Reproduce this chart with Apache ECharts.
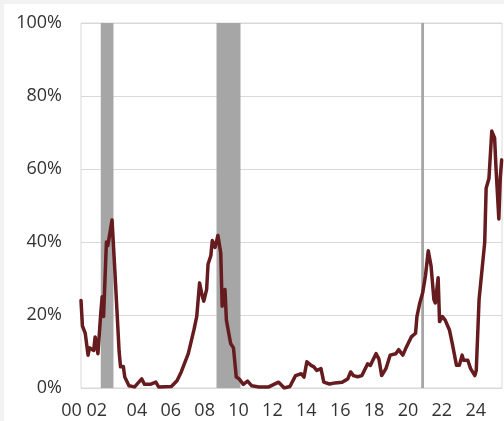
<!DOCTYPE html>
<html>
<head>
<meta charset="utf-8">
<script src="https://cdn.jsdelivr.net/npm/echarts@6/dist/echarts.min.js"></script>
<style>
  html, body { margin: 0; padding: 0; background: #f2f2f2; }
  #chart { position: absolute; left: 4px; top: 4px; width: 500px; height: 417px; background: #ffffff; }
</style>
</head>
<body>
<div id="chart"></div>
<script>
// Monthly share (%) — readings by month
const months = [
  '2000-01','2000-02','2000-04','2000-06','2000-07','2000-10','2000-11',
  '2001-01','2001-03','2001-04','2001-05','2001-07','2001-08','2001-11',
  '2002-01','2002-04','2002-05','2002-07','2002-08','2002-11',
  '2003-03','2003-08','2003-10',
  '2004-02','2004-06','2004-08',
  '2005-05','2005-09','2005-12',
  '2006-05','2006-09','2006-11',
  '2007-01','2007-03','2007-04','2007-06','2007-07','2007-09','2007-10','2007-12',
  '2008-02','2008-04','2008-05','2008-07','2008-08','2008-11',
  '2009-01','2009-03','2009-05','2009-08','2009-11',
  '2010-02','2010-07',
  '2011-02','2011-09',
  '2012-01','2012-05','2012-09',
  '2013-01','2013-03','2013-05','2013-08','2013-10','2013-12',
  '2014-03','2014-05','2014-09',
  '2015-01','2015-06','2015-10','2015-12',
  '2016-02','2016-05','2016-08','2016-12',
  '2017-02','2017-06','2017-08','2017-10',
  '2018-01','2018-04','2018-08','2018-10',
  '2019-01','2019-03','2019-07','2019-10','2019-11',
  '2020-01','2020-03','2020-05','2020-07','2020-09','2020-11','2020-12',
  '2021-02','2021-03','2021-05','2021-07','2021-10','2021-12',
  '2022-03','2022-05','2022-07','2022-08','2022-11',
  '2023-01','2023-04','2023-05','2023-07','2023-08','2023-11','2023-12',
  '2024-02','2024-04','2024-06','2024-07','2024-09','2024-10','2024-11'
];
const shares = [
  24, 17, 15, 9, 11, 10.3, 14,
  9.4, 20.5, 25, 19.6, 40, 39, 46,
  32, 10, 5.8, 5.9, 3, 0.6,
  0.3, 2.5, 1,
  1, 1.6, 0.3,
  0.4, 2, 4.4,
  9.4, 15.9, 19.6,
  28.8, 25, 23.8, 27, 33.9, 36.3, 40.4, 38.5,
  41.8, 37, 22.4, 27, 18.6, 12.2,
  11, 3, 2.5, 1, 1.9,
  0.6, 0.3,
  0.3, 1.6,
  0, 0.4, 3.4,
  3.9, 3, 7.2, 6.2, 5.8, 4.8,
  5.3, 1.6, 1.1,
  1.4, 1.6, 2.5, 4.4,
  3.4, 3.1, 3.4, 6.6,
  6.2, 9.4, 8, 3.4,
  5.3, 9, 9.4, 10.5,
  9, 10.8, 14, 15, 19.6,
  23.3, 26, 30.7, 37.6, 33.4, 24.2, 23.3,
  30.2, 18.2, 19.6, 18.6, 15.9, 12.2,
  6.2, 6.2, 9, 7.6, 7.6,
  5.3, 3.4, 4.8, 24.2, 24.2, 39.9, 54.7,
  57.4, 70.4, 68.5, 60.2, 46.3, 57.4, 62.5
];

// Recession periods (shaded)
const recessionStarts = ['2001-03', '2008-01', '2020-02'];
const recessionEnds   = ['2001-12', '2009-06', '2020-04'];

// Axis ticks
const yTicks = [0, 20, 40, 60, 80, 100];
const xTickYears = [2000, 2002, 2004, 2006, 2008, 2010, 2012, 2014, 2016, 2018, 2020, 2022, 2024];

const toYear = s => {
  const [y, m] = s.split('-').map(Number);
  return y + (m - 1) / 12;
};
const twoDigit = y => String(y).slice(2);

const xMin = toYear(months[0]);
const xMax = toYear(months[months.length - 1]) + 0.02;
const labelShift = 0.7;

const lineData = months.map((m, i) => [toYear(m), shares[i]]);
const areas = recessionStarts.map((s, i) => [
  { xAxis: toYear(s) },
  { xAxis: toYear(recessionEnds[i]) }
]);

// first two year labels share one slot on the axis
const firstLabel = twoDigit(xTickYears[0]) + ' ' + twoDigit(xTickYears[1]);
const labelValues = [xTickYears[0] + 0.88].concat(xTickYears.slice(2));

const font = "'Open Sans', 'Noto Sans', sans-serif";
const textColor = '#333333';

const chart = echarts.init(document.getElementById('chart'), null, { renderer: 'canvas' });
chart.setOption({
  animation: false,
  backgroundColor: '#ffffff',
  grid: {
    left: 77, top: 19, right: 2, bottom: 33,
    show: true, borderColor: '#d9d9d9', borderWidth: 1, backgroundColor: 'transparent'
  },
  xAxis: [
    {
      type: 'value', min: xMin, max: xMax,
      axisLine: { show: false }, axisTick: { show: false },
      axisLabel: { show: false }, splitLine: { show: false }
    },
    {
      type: 'value', position: 'bottom',
      min: xMin + labelShift, max: xMax + labelShift,
      axisLine: { show: false }, axisTick: { show: false }, splitLine: { show: false },
      axisLabel: {
        customValues: labelValues,
        margin: 14,
        fontFamily: font, fontSize: 18, color: textColor,
        formatter: v => (v < xTickYears[1] ? firstLabel : twoDigit(Math.round(v)))
      }
    }
  ],
  yAxis: {
    type: 'value', min: yTicks[0], max: yTicks[yTicks.length - 1], interval: yTicks[1] - yTicks[0],
    axisLine: { show: false }, axisTick: { show: false },
    splitLine: { lineStyle: { color: '#d9d9d9', width: 1 } },
    axisLabel: {
      margin: 19, fontFamily: font, fontSize: 18, color: textColor,
      formatter: '{value}%'
    }
  },
  series: [
    {
      type: 'line',
      xAxisIndex: 0,
      data: lineData,
      symbol: 'none',
      lineStyle: { color: '#661b1e', width: 3.5, join: 'round', cap: 'round' },
      markArea: {
        silent: true,
        itemStyle: { color: '#a6a6a6' },
        data: areas
      },
      z: 3
    }
  ]
});
</script>
</body>
</html>
